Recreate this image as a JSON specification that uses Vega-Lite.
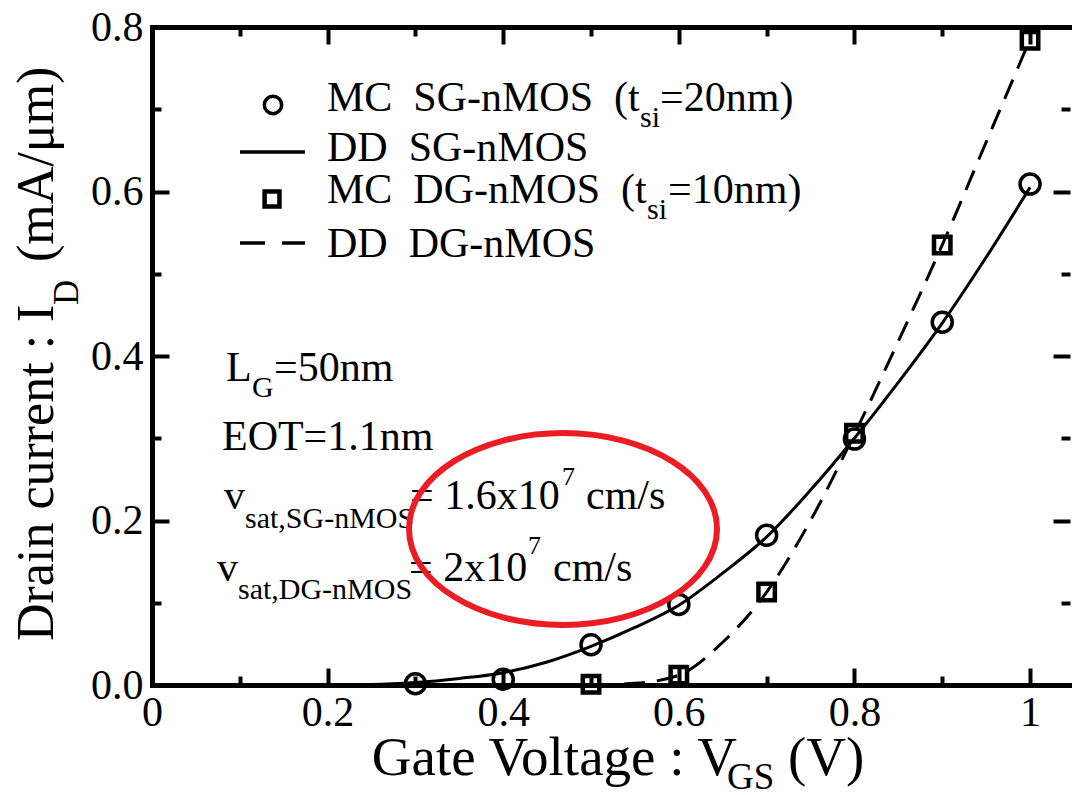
{
  "$schema": "https://vega.github.io/schema/vega-lite/v6.json",
  "width": 918,
  "height": 658,
  "autosize": {"type": "none"},
  "padding": {"left": 152, "top": 27, "right": 2, "bottom": 110},
  "background": "white",
  "config": {
    "font": "Liberation Serif",
    "view": {"stroke": null},
    "text": {"font": "Liberation Serif", "color": "black", "align": "left", "baseline": "alphabetic", "fontSize": 42},
    "axis": {
      "title": null,
      "grid": false,
      "domainColor": "black",
      "domainWidth": 5,
      "domainCap": "square",
      "tickColor": "black",
      "tickWidth": 4,
      "labelFont": "Liberation Serif",
      "labelFontSize": 42,
      "labelColor": "black",
      "labelOverlap": false,
      "labelFlush": false
    }
  },
  "data": {"values": [{}]},
  "datasets": {
    "dd_sg": [
      {"vgs": 0.2, "id": 0.0},
      {"vgs": 0.25, "id": 0.0005},
      {"vgs": 0.3, "id": 0.003},
      {"vgs": 0.35, "id": 0.008},
      {"vgs": 0.4, "id": 0.015},
      {"vgs": 0.45, "id": 0.028},
      {"vgs": 0.5, "id": 0.047},
      {"vgs": 0.55, "id": 0.07},
      {"vgs": 0.6, "id": 0.097},
      {"vgs": 0.65, "id": 0.136},
      {"vgs": 0.7, "id": 0.18},
      {"vgs": 0.75, "id": 0.237},
      {"vgs": 0.8, "id": 0.3},
      {"vgs": 0.85, "id": 0.368},
      {"vgs": 0.9, "id": 0.44},
      {"vgs": 0.95, "id": 0.52},
      {"vgs": 1.0, "id": 0.605}
    ],
    "dd_dg": [
      {"vgs": 0.5, "id": 0.0},
      {"vgs": 0.55, "id": 0.002},
      {"vgs": 0.6, "id": 0.012},
      {"vgs": 0.65, "id": 0.052},
      {"vgs": 0.7, "id": 0.113},
      {"vgs": 0.75, "id": 0.2},
      {"vgs": 0.8, "id": 0.305},
      {"vgs": 0.85, "id": 0.418},
      {"vgs": 0.9, "id": 0.535},
      {"vgs": 0.95, "id": 0.66},
      {"vgs": 1.0, "id": 0.785}
    ],
    "mc_sg": [
      {"vgs": 0.3, "id": 0.0015},
      {"vgs": 0.4, "id": 0.007},
      {"vgs": 0.5, "id": 0.049},
      {"vgs": 0.6, "id": 0.098},
      {"vgs": 0.7, "id": 0.182},
      {"vgs": 0.8, "id": 0.299},
      {"vgs": 0.9, "id": 0.441},
      {"vgs": 1.0, "id": 0.609}
    ],
    "mc_dg": [
      {"vgs": 0.5, "id": 0.001},
      {"vgs": 0.6, "id": 0.012},
      {"vgs": 0.7, "id": 0.113},
      {"vgs": 0.8, "id": 0.306},
      {"vgs": 0.9, "id": 0.535},
      {"vgs": 1.0, "id": 0.784}
    ]
  },
  "resolve": {"axis": {"x": "independent", "y": "independent"}},
  "layer": [
    {
      "data": {"name": "dd_sg"},
      "mark": {"type": "line", "color": "black", "strokeWidth": 3, "interpolate": "monotone"},
      "encoding": {
        "x": {"field": "vgs", "type": "quantitative",
          "scale": {"domain": [0, 1.0455], "nice": false, "zero": false},
          "axis": {"orient": "bottom", "values": [0, 0.1, 0.2, 0.3, 0.4, 0.5, 0.6, 0.7, 0.8, 0.9, 1.0],
            "labelExpr": "round(datum.value*10)%2==0 ? format(datum.value,'~g') : ''",
            "labelPadding": 24,
            "tickSize": {"condition": {"test": "round(datum.value*10)%2==0", "value": -17}, "value": -9}}},
        "y": {"field": "id", "type": "quantitative",
          "scale": {"domain": [0, 0.8], "nice": false},
          "axis": {"orient": "left", "values": [0, 0.1, 0.2, 0.3, 0.4, 0.5, 0.6, 0.7, 0.8],
            "labelExpr": "round(datum.value*10)%2==0 ? format(datum.value,'.1f') : ''",
            "labelPadding": 26,
            "tickSize": {"condition": {"test": "round(datum.value*10)%2==0", "value": -17}, "value": -9}}}
      }
    },
    {
      "data": {"name": "dd_dg"},
      "mark": {"type": "line", "color": "black", "strokeWidth": 3, "strokeDash": [21, 12], "interpolate": "monotone"},
      "encoding": {
        "x": {"field": "vgs", "type": "quantitative",
          "axis": {"orient": "top", "values": [0, 0.1, 0.2, 0.3, 0.4, 0.5, 0.6, 0.7, 0.8, 0.9, 1.0],
            "labels": false,
            "tickSize": {"condition": {"test": "round(datum.value*10)%2==0", "value": -17}, "value": -9}}},
        "y": {"field": "id", "type": "quantitative",
          "axis": {"orient": "right", "values": [0, 0.1, 0.2, 0.3, 0.4, 0.5, 0.6, 0.7, 0.8],
            "labels": false, "domain": false,
            "tickSize": {"condition": {"test": "round(datum.value*10)%2==0", "value": -17}, "value": -9}}}
      }
    },
    {
      "data": {"name": "mc_sg"},
      "mark": {"type": "point", "shape": "circle", "filled": false, "stroke": "black", "strokeWidth": 3.5, "size": 400, "opacity": 1},
      "encoding": {
        "x": {"field": "vgs", "type": "quantitative", "axis": null},
        "y": {"field": "id", "type": "quantitative", "axis": null}
      }
    },
    {
      "data": {"name": "mc_dg"},
      "mark": {"type": "point", "shape": "square", "filled": false, "stroke": "black", "strokeWidth": 4.5, "size": 270, "opacity": 1},
      "encoding": {
        "x": {"field": "vgs", "type": "quantitative", "axis": null},
        "y": {"field": "id", "type": "quantitative", "axis": null}
      }
    },
    {"mark": {"type": "point", "shape": "circle", "filled": false, "stroke": "black", "strokeWidth": 3.5, "size": 300, "opacity": 1},
     "encoding": {"x": {"datum": 0.1378, "axis": null}, "y": {"datum": 0.7052, "axis": null}}},
    {"mark": {"type": "rule", "color": "black", "strokeWidth": 3.5},
     "encoding": {"x": {"datum": 0.1002, "axis": null}, "x2": {"datum": 0.1742}, "y": {"datum": 0.648, "axis": null}}},
    {"mark": {"type": "point", "shape": "square", "filled": false, "stroke": "black", "strokeWidth": 4.5, "size": 220, "opacity": 1},
     "encoding": {"x": {"datum": 0.1367, "axis": null}, "y": {"datum": 0.5909, "axis": null}}},
    {"mark": {"type": "rule", "color": "black", "strokeWidth": 3.5, "strokeDash": [25, 17]},
     "encoding": {"x": {"datum": 0.1002, "axis": null}, "x2": {"datum": 0.1742}, "y": {"datum": 0.5374, "axis": null}}},
    {"mark": {"type": "text"}, "encoding": {"x": {"datum": 0.1993, "axis": null}, "y": {"datum": 0.6979, "axis": null}, "text": {"value": "MC\u00a0\u00a0SG-nMOS\u00a0\u00a0(t"}}},
    {"mark": {"type": "text", "fontSize": 30}, "encoding": {"x": {"datum": 0.5558, "axis": null}, "y": {"datum": 0.6784, "axis": null}, "text": {"value": "si"}}},
    {"mark": {"type": "text"}, "encoding": {"x": {"datum": 0.5786, "axis": null}, "y": {"datum": 0.6979, "axis": null}, "text": {"value": "=20nm)"}}},
    {"mark": {"type": "text"}, "encoding": {"x": {"datum": 0.1993, "axis": null}, "y": {"datum": 0.6371, "axis": null}, "text": {"value": "DD\u00a0\u00a0SG-nMOS"}}},
    {"mark": {"type": "text"}, "encoding": {"x": {"datum": 0.1993, "axis": null}, "y": {"datum": 0.586, "axis": null}, "text": {"value": "MC\u00a0\u00a0DG-nMOS\u00a0\u00a0(t"}}},
    {"mark": {"type": "text", "fontSize": 30}, "encoding": {"x": {"datum": 0.5638, "axis": null}, "y": {"datum": 0.5666, "axis": null}, "text": {"value": "si"}}},
    {"mark": {"type": "text"}, "encoding": {"x": {"datum": 0.5877, "axis": null}, "y": {"datum": 0.586, "axis": null}, "text": {"value": "=10nm)"}}},
    {"mark": {"type": "text"}, "encoding": {"x": {"datum": 0.1993, "axis": null}, "y": {"datum": 0.5204, "axis": null}, "text": {"value": "DD\u00a0\u00a0DG-nMOS"}}},
    {"mark": {"type": "text"}, "encoding": {"x": {"datum": 0.0843, "axis": null}, "y": {"datum": 0.3696, "axis": null}, "text": {"value": "L"}}},
    {"mark": {"type": "text", "fontSize": 30}, "encoding": {"x": {"datum": 0.1139, "axis": null}, "y": {"datum": 0.3502, "axis": null}, "text": {"value": "G"}}},
    {"mark": {"type": "text"}, "encoding": {"x": {"datum": 0.1389, "axis": null}, "y": {"datum": 0.3696, "axis": null}, "text": {"value": "=50nm"}}},
    {"mark": {"type": "text"}, "encoding": {"x": {"datum": 0.0797, "axis": null}, "y": {"datum": 0.2857, "axis": null}, "text": {"value": "EOT=1.1nm"}}},
    {"mark": {"type": "text"}, "encoding": {"x": {"datum": 0.082, "axis": null}, "y": {"datum": 0.214, "axis": null}, "text": {"value": "v"}}},
    {"mark": {"type": "text", "fontSize": 30}, "encoding": {"x": {"datum": 0.1059, "axis": null}, "y": {"datum": 0.1909, "axis": null}, "text": {"value": "sat,SG-nMOS"}}},
    {"mark": {"type": "text"}, "encoding": {"x": {"datum": 0.2938, "axis": null}, "y": {"datum": 0.214, "axis": null}, "text": {"value": "=\u00a01.6x10"}}},
    {"mark": {"type": "text", "fontSize": 26}, "encoding": {"x": {"datum": 0.4669, "axis": null}, "y": {"datum": 0.2432, "axis": null}, "text": {"value": "7"}}},
    {"mark": {"type": "text"}, "encoding": {"x": {"datum": 0.4943, "axis": null}, "y": {"datum": 0.214, "axis": null}, "text": {"value": "cm/s"}}},
    {"mark": {"type": "text"}, "encoding": {"x": {"datum": 0.074, "axis": null}, "y": {"datum": 0.1264, "axis": null}, "text": {"value": "v"}}},
    {"mark": {"type": "text", "fontSize": 30}, "encoding": {"x": {"datum": 0.0979, "axis": null}, "y": {"datum": 0.1046, "axis": null}, "text": {"value": "sat,DG-nMOS"}}},
    {"mark": {"type": "text"}, "encoding": {"x": {"datum": 0.2927, "axis": null}, "y": {"datum": 0.1264, "axis": null}, "text": {"value": "=\u00a02x10"}}},
    {"mark": {"type": "text", "fontSize": 26}, "encoding": {"x": {"datum": 0.4282, "axis": null}, "y": {"datum": 0.1593, "axis": null}, "text": {"value": "7"}}},
    {"mark": {"type": "text"}, "encoding": {"x": {"datum": 0.4567, "axis": null}, "y": {"datum": 0.1264, "axis": null}, "text": {"value": "cm/s"}}},
    {"mark": {"type": "text", "fontSize": 55}, "encoding": {"x": {"datum": 0.2504, "axis": null}, "y": {"datum": -0.1094, "axis": null}, "text": {"value": "Gate Voltage : V"}}},
    {"mark": {"type": "text", "fontSize": 37}, "encoding": {"x": {"datum": 0.6549, "axis": null}, "y": {"datum": -0.1264, "axis": null}, "text": {"value": "GS"}}},
    {"mark": {"type": "text", "fontSize": 55}, "encoding": {"x": {"datum": 0.7243, "axis": null}, "y": {"datum": -0.1094, "axis": null}, "text": {"value": "(V)"}}},
    {"mark": {"type": "text", "fontSize": 52, "angle": 270}, "encoding": {"x": {"datum": -0.1127, "axis": null}, "y": {"datum": 0.0535, "axis": null}, "text": {"value": "Drain current : I"}}},
    {"mark": {"type": "text", "fontSize": 35, "angle": 270}, "encoding": {"x": {"datum": -0.0843, "axis": null}, "y": {"datum": 0.462, "axis": null}, "text": {"value": "D"}}},
    {"mark": {"type": "text", "fontSize": 52, "angle": 270}, "encoding": {"x": {"datum": -0.1127, "axis": null}, "y": {"datum": 0.5143, "axis": null}, "text": {"value": "(mA/μm)"}}},
    {"mark": {"type": "point", "shape": "M-1,0C-1,-0.3441,-0.5523,-0.623,0,-0.623C0.5523,-0.623,1,-0.3441,1,0C1,0.3441,0.5523,0.623,0,0.623C-0.5523,0.623,-1,0.3441,-1,0Z", "size": 94864, "filled": false, "stroke": "#ec1c24", "strokeWidth": 6, "opacity": 1},
     "encoding": {"x": {"datum": 0.4681, "axis": null}, "y": {"datum": 0.1897, "axis": null}}}
  ]
}
